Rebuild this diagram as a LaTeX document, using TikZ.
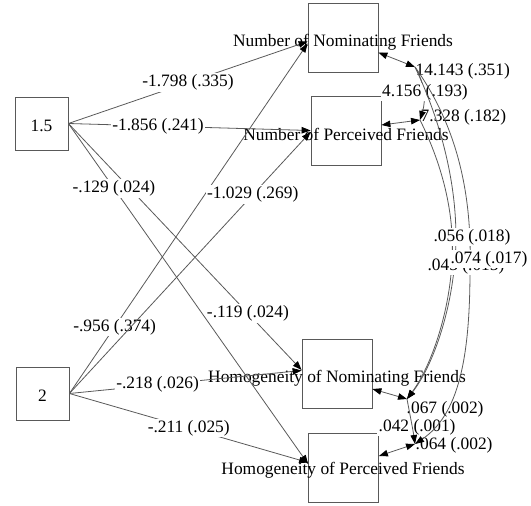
\documentclass[tikz,border=0pt]{standalone}
\usepackage{fontspec}
\setmainfont{Liberation Serif}
\usetikzlibrary{arrows.meta}
\begin{document}
\begin{tikzpicture}[x=1pt,y=-1pt,
  every node/.style={font=\fontsize{17.4}{20}\selectfont},
  box/.style={draw=black!65, line width=0.8pt, minimum width=70pt, minimum height=69pt, inner sep=0pt},
  sbox/.style={box, minimum width=53pt, minimum height=53pt},
  conn/.style={draw=black!65, line width=0.8pt},
  arr/.style={conn, -{Triangle[length=9pt,width=6.5pt,black]}},
  rarr/.style={conn, {Triangle[length=9pt,width=6.5pt,black]}-},
  barr/.style={conn, {Triangle[length=9pt,width=6.5pt,black]}-{Triangle[length=9pt,width=6.5pt,black]}},
  lab/.style={fill=white, inner sep=1.5pt},
]
\useasboundingbox (0,0) rectangle (531,506);

% boxes
\node[sbox] (a) at (41.5,123.5) {};
\node at (41.5,126) (at) {1.5};
\node[sbox] (b) at (42.5,393.5) {};
\node at (42.5,396) (bt) {2};
\node[box] (nomf) at (343,37.5) {};
\node[box] (perf) at (346,130.5) {};
\node[box] (homn) at (337,373.5) {};
\node[box] (homp) at (343.5,467.5) {};
\node (nomft) at (343,42.5) {Number of Nominating Friends};
\node (perft) at (346,134) {Number of Perceived Friends};
\node (homnt) at (337,378) {Homogeneity of Nominating Friends};
\node (hompt) at (343,470) {Homogeneity of Perceived Friends};

% regression paths
\draw[arr] (a.east) -- node[lab,pos=0.50] {-1.798 (.335)} ([yshift=-4pt]nomf.west);
\draw[arr] (a.east) -- node[lab,pos=0.37] {-1.856 (.241)} (perf.west);
\draw[arr] (a.east) -- node[lab,pos=0.77] {-.119 (.024)} ([yshift=3.5pt]homn.west);
\draw[arr] (a.east) -- node[lab,pos=0.19] {-.129 (.024)} ([yshift=3.5pt]homp.west);
\draw[arr] (b.east) -- node[lab,pos=0.19] {-.956 (.374)} ([yshift=-6pt]nomf.west);
\draw[arr] (b.east) -- node[lab,pos=0.76] {-1.029 (.269)} ([yshift=-1.5pt]perf.west);
\draw[arr] (b.east) -- node[lab,pos=0.38] {-.218 (.026)} ([yshift=3pt]homn.west);
\draw[arr] (b.east) -- node[lab,pos=0.50] {-.211 (.025)} ([yshift=5pt]homp.west);

% residual (co)variances
\coordinate (p1) at (415,67);
\coordinate (p2) at (420,120);
\coordinate (p3) at (407,399);
\coordinate (p4) at (415,444);

\node[lab,anchor=west] (v1) at (414,71) {14.143 (.351)};
\node[lab,anchor=west] (v2) at (419,117) {7.328 (.182)};
\node[lab,anchor=west] (v3) at (405,409) {.067 (.002)};
\node[lab,anchor=west] (c34) at (377,427) {.042 (.001)};
\node[lab,anchor=west] (v4) at (414,445) {.064 (.002)};

\draw[rarr] (p2) .. controls (426,100) and (425,84) .. (p1);
\node[lab] (c12) at (425,92) {4.156 (.193)};

\draw[barr] ([yshift=-15pt]nomf.east) -- (p1);
\draw[barr] ([yshift=5.5pt]perf.east) -- (p2);
\draw[barr] ([yshift=-15.5pt]homn.east) -- (p3);
\draw[barr] ([yshift=11.5pt]homp.east) -- (p4);

\draw[arr] (p3) .. controls (410,415) and (413,430) .. (p4);
\draw[arr] (p1) .. controls (460,130) and (472,200) .. (470,270)
  .. controls (470,360) and (458,415) .. (p4);
\draw[arr] (p1) .. controls (445,130) and (460,200) .. (455,260)
  .. controls (450,320) and (430,370) .. (p3);
\draw[arr] (p2) .. controls (440,160) and (455,210) .. (452,260)
  .. controls (450,310) and (432,365) .. (p3);

\node[lab] (c13) at (472,237) {.056 (.018)};
\node[lab] (c23) at (466,266) {.045 (.015)};
\node[lab] (c14) at (489,259) {.074 (.017)};
\end{tikzpicture}
\end{document}
